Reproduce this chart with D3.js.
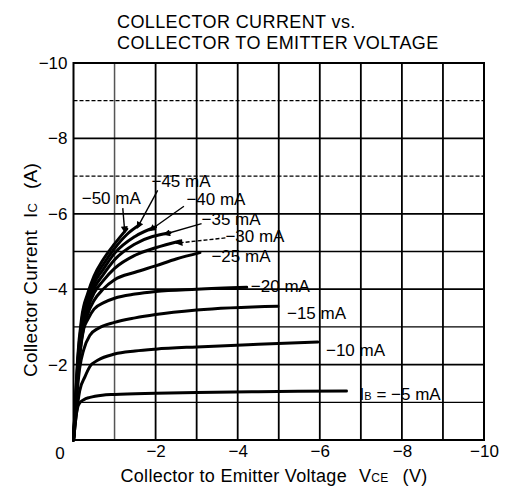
<!DOCTYPE html>
<html><head><meta charset="utf-8">
<script src="https://cdn.jsdelivr.net/npm/d3@7"></script>
<style>
html,body{margin:0;padding:0;background:#fff;}
text{font-family:"Liberation Sans",Arial,Helvetica,sans-serif;fill:#000;}
</style></head>
<body><svg id="c" width="505" height="491"></svg>
<script>
// ---- data (magnitudes; the chart shows them as negative values) ----
const xTicks = [2, 4, 6, 8, 10];
const yTicks = [2, 4, 6, 8, 10];
const gridX = [1, 2, 3, 4, 5, 6, 7, 8, 9];
const gridY = [1, 2, 3, 4, 5, 6, 7, 8, 9];
const baseCurrents = [5, 10, 15, 20, 25, 30, 35, 40, 45, 50]; // -mA

const c5  = [[0,0],[0.03,0.3],[0.06,0.62],[0.1,0.86],[0.15,0.98],[0.25,1.07],[0.4,1.13],[0.7,1.19],[1,1.21],[2,1.24],[3,1.26],[4.5,1.28],[6.65,1.3]];
const c10 = [[0,0],[0.05,0.5],[0.1,0.95],[0.15,1.3],[0.28,1.68],[0.4,1.95],[0.6,2.12],[1,2.28],[1.5,2.36],[2,2.41],[3,2.47],[4.5,2.54],[5.95,2.6]];
const c15 = [[0,0],[0.05,0.7],[0.1,1.4],[0.15,1.9],[0.25,2.4],[0.4,2.78],[0.6,2.96],[1,3.12],[1.5,3.24],[2,3.33],[3,3.45],[4.98,3.55]];
const c20 = [[0,0],[0.05,0.8],[0.1,1.6],[0.17,2.4],[0.25,2.95],[0.35,3.2],[0.5,3.47],[0.75,3.65],[1,3.76],[1.5,3.87],[2,3.94],[3,4.0],[4.22,4.05]];
const c25 = [[0,0],[0.05,0.85],[0.1,1.7],[0.2,2.7],[0.35,3.35],[0.5,3.7],[0.72,4.0],[1,4.25],[1.5,4.45],[2,4.62],[2.5,4.8],[3.08,4.97]];
const c30 = [[0,0],[0.05,0.9],[0.1,1.8],[0.2,2.85],[0.35,3.5],[0.5,3.9],[0.72,4.22],[1,4.55],[1.5,4.9],[2,5.1],[2.6,5.28]];
const c35 = [[0,0],[0.05,0.95],[0.1,1.85],[0.2,2.95],[0.35,3.6],[0.5,4.02],[0.72,4.38],[1,4.78],[1.5,5.2],[2.35,5.5]];
const c40 = [[0,0],[0.05,1.0],[0.1,1.95],[0.2,3.05],[0.35,3.7],[0.5,4.15],[0.72,4.52],[1,4.95],[1.5,5.4],[2.0,5.65]];
const c45 = [[0,0],[0.05,1.05],[0.1,2.05],[0.2,3.15],[0.35,3.8],[0.5,4.25],[0.72,4.65],[1,5.08],[1.3,5.45],[1.6,5.7]];
const c50 = [[0,0],[0.05,1.1],[0.1,2.15],[0.2,3.25],[0.35,3.9],[0.5,4.35],[0.72,4.78],[1,5.2],[1.3,5.6]];
const curves = [c5, c10, c15, c20, c25, c30, c35, c40, c45, c50];

// curve labels: text, anchor point [V, I]
const curveLabels = [
  {t:"−50 mA", p:[0.2, 6.26]},
  {t:"−45 mA", p:[1.9, 6.72]},
  {t:"−40 mA", p:[2.75, 6.24]},
  {t:"−35 mA", p:[3.12, 5.71]},
  {t:"−30 mA", p:[3.7, 5.26]},
  {t:"−25 mA", p:[3.36, 4.73]},
  {t:"−20 mA", p:[4.32, 3.93]},
  {t:"−15 mA", p:[5.2, 3.22]},
  {t:"−10 mA", p:[6.15, 2.23]},
];
// leader arrows: from [V,I] to [V,I]
const leaders = [
  {from:[1.2, 6.15], to:[1.25, 5.5], dashed:false},
  {from:[2.05, 6.62],to:[1.55, 5.62], dashed:false},
  {from:[2.69, 6.2], to:[1.85, 5.55], dashed:false},
  {from:[3.12, 5.74],to:[2.2, 5.45], dashed:false},
  {from:[3.7, 5.36], to:[2.5, 5.22], dashed:true},
];

// ---- drawing ----
const svg = d3.select("#c");
const x = d3.scaleLinear().domain([0, 10]).range([73.5, 484]);
const y = d3.scaleLinear().domain([0, 10]).range([440, 63]);
const neg = d => d === 0 ? "0" : "−" + d;

// title
const title = svg.append("text").attr("x", 117).attr("y", 28).style("font-size", "18px").style("letter-spacing", "0.4px");
title.append("tspan").attr("x", 117).attr("dy", 0).text("COLLECTOR CURRENT vs.");
title.append("tspan").attr("x", 117).attr("dy", 21).text("COLLECTOR TO EMITTER VOLTAGE");

// grid
const g = svg.append("g");
g.selectAll(".gx").data(gridX).join("line")
  .attr("x1", d => x(d)).attr("x2", d => x(d)).attr("y1", y(0)).attr("y2", y(10))
  .attr("stroke", d => d === 1 ? "#555" : "#000").attr("stroke-width", d => d === 1 ? 1.5 : 1.8);
g.selectAll(".gy").data(gridY).join("line")
  .attr("x1", x(0)).attr("x2", x(10)).attr("y1", d => y(d)).attr("y2", d => y(d))
  .attr("stroke", "#000")
  .attr("stroke-width", d => d % 2 ? 1.3 : 1.8)
  .attr("stroke-dasharray", d => d % 2 && d > 6 ? "4,2" : null);
g.append("rect").attr("x", x(0)).attr("y", y(10)).attr("width", x(10) - x(0)).attr("height", y(0) - y(10))
  .attr("fill", "none").attr("stroke", "#000").attr("stroke-width", 2);

// axes
const xa = svg.append("g").attr("transform", `translate(0,${y(0)})`)
  .call(d3.axisBottom(x).tickValues(xTicks).tickSize(0).tickPadding(5).tickFormat(neg));
const ya = svg.append("g").attr("transform", `translate(${x(0)},0)`)
  .call(d3.axisLeft(y).tickValues(yTicks).tickSize(0).tickPadding(6).tickFormat(neg));
[xa, ya].forEach(a => { a.select(".domain").remove(); a.selectAll("text").style("font-size", "17px").style("font-family", "Liberation Sans, Arial, sans-serif"); });
svg.append("text").attr("x", 60).attr("y", 459).attr("text-anchor", "middle").style("font-size", "17px").text("0");

// axis titles
const xt = svg.append("text").attr("x", 274).attr("y", 482).attr("text-anchor", "middle").style("font-size", "18px").style("letter-spacing", "0.3px");
xt.append("tspan").text("Collector to Emitter Voltage");
xt.append("tspan").attr("dx", 12).text("V");
xt.append("tspan").style("font-size", "12px").text("CE");
xt.append("tspan").attr("dx", 14).text("(V)");
const yt = svg.append("text").attr("transform", "translate(37,270) rotate(-90)").attr("text-anchor", "middle").style("font-size", "19px").style("letter-spacing", "0.2px");
yt.append("tspan").text("Collector Current");
yt.append("tspan").attr("dx", 12).text("I");
yt.append("tspan").style("font-size", "13px").text("C");
yt.append("tspan").attr("dx", 14).text("(A)");

// curves
const line = d3.line().x(d => x(d[0])).y(d => y(d[1])).curve(d3.curveMonotoneX);
svg.append("g").selectAll("path").data(curves).join("path")
  .attr("d", line).attr("fill", "none").attr("stroke", "#000")
  .attr("stroke-width", 3).attr("stroke-linecap", "round").attr("stroke-linejoin", "round");

// arrow marker
svg.append("defs").append("marker").attr("id", "ah").attr("viewBox", "0 0 10 10")
  .attr("refX", 9).attr("refY", 5).attr("markerWidth", 9).attr("markerHeight", 7)
  .attr("markerUnits", "userSpaceOnUse").attr("orient", "auto")
  .append("path").attr("d", "M0,0L10,5L0,10z").attr("fill", "#000");
svg.append("g").selectAll("line").data(leaders).join("line")
  .attr("x1", d => x(d.from[0])).attr("y1", d => y(d.from[1]))
  .attr("x2", d => x(d.to[0])).attr("y2", d => y(d.to[1]))
  .attr("stroke", "#000").attr("stroke-width", 1.4)
  .attr("stroke-dasharray", d => d.dashed ? "4,2" : null)
  .attr("marker-end", "url(#ah)");

// curve labels
svg.append("g").selectAll("text").data(curveLabels).join("text")
  .attr("x", d => x(d.p[0])).attr("y", d => y(d.p[1]))
  .style("font-size", "17px").text(d => d.t);
const ibl = svg.append("text").attr("x", x(6.97)).attr("y", y(1.07)).style("font-size", "17px");
ibl.append("tspan").text("I");
ibl.append("tspan").style("font-size", "11px").text("B");
ibl.append("tspan").text(" = −" + baseCurrents[0] + " mA");
</script></body></html>
